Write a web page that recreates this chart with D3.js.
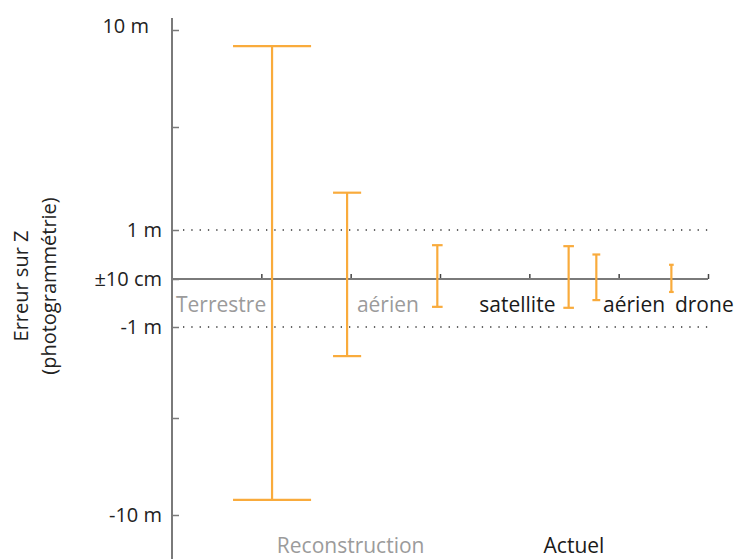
<!DOCTYPE html>
<html>
<head>
<meta charset="utf-8">
<script src="https://cdn.jsdelivr.net/npm/d3@7"></script>
<style>
  html, body { margin: 0; padding: 0; background: #fff; }
  svg { display: block; font-family: "Open Sans", "Noto Sans", sans-serif; }
</style>
</head>
<body>
<svg id="chart" width="736" height="559"></svg>
<script>
// ---- data ----
const barNames   = ["Terrestre (reconstruction)", "Aérien (reconstruction)", "Aérien (reconstruction) 2", "Satellite", "Aérien actuel", "Drone"];
const barPos     = [1.12, 1.96, 2.97, 4.44, 4.75, 5.59];      // position along the category axis
const barLow     = [-9.3, -2.44, -0.58, -0.60, -0.44, -0.27];  // m
const barHigh    = [9.25, 2.63, 0.69, 0.67, 0.50, 0.29];       // m

const yTickValues = [10, 5.5, 1, 0, -1, -5.5, -10];
const yTickLabels = ["10 m", "", "1 m", "±10 cm", "-1 m", "", "-10 m"];
const refLines    = [1, -1];

const catLabels   = ["Terrestre", "aérien", "satellite", "aérien", "drone"];
const catStart    = [0.045, 2.07, 3.44, 4.825, 5.63];
const catGrey     = [true, true, false, false, false];

const groupLabels = ["Reconstruction", "Actuel"];
const groupCenter = [2, 4.5];
const groupGrey   = [true, false];

const xTicks = [1, 2, 3, 4, 5, 6];

// ---- scales ----
const svg = d3.select("#chart");
const x = d3.scaleLinear().domain([0, 6]).range([172, 708]);
const y = d3.scaleLinear()
  .domain([-10, -5.5, -1, 0, 1, 5.5, 10])
  .range([515, 418, 327, 279, 230, 127, 30]);

const orange = "#F9AB3C";
const axisGrey = "#7a7a7a";

// dotted reference lines
svg.append("g").selectAll("line").data(refLines).join("line")
  .attr("x1", x(0) + 11).attr("x2", x(6))
  .attr("y1", d => y(d)).attr("y2", d => y(d))
  .attr("stroke", "#333").attr("stroke-width", 1.5)
  .attr("stroke-dasharray", "1.3 7");

// y axis
const yAxis = d3.axisRight(y).tickValues(yTickValues).tickSize(7).tickFormat("");
const gy = svg.append("g").attr("transform", `translate(${x(0)},0)`).call(yAxis);
gy.select(".domain").remove();
gy.selectAll(".tick line").attr("stroke", axisGrey).attr("stroke-width", 1.5);
svg.append("line").attr("x1", x(0)).attr("x2", x(0)).attr("y1", 18).attr("y2", 559)
  .attr("stroke", axisGrey).attr("stroke-width", 2);

// y tick labels (the top label sits a little higher and further left in the original)
svg.append("g").selectAll("text").data(yTickValues).join("text")
  .attr("x", (d, i) => i === 0 ? 149 : 162)
  .attr("y", (d, i) => y(d) - (i === 0 ? 4 : 0)).attr("dy", "0.35em")
  .attr("text-anchor", "end").attr("font-size", 20).attr("fill", "#222")
  .text((d, i) => yTickLabels[i]);

// x axis (zero line)
const xAxis = d3.axisTop(x).tickValues(xTicks).tickSize(5).tickFormat("");
const gx = svg.append("g").attr("transform", `translate(0,${y(0)})`).call(xAxis);
gx.select(".domain").remove();
gx.selectAll(".tick line").attr("stroke", "#444").attr("stroke-width", 1.5);
svg.append("line").attr("x1", x(0)).attr("x2", x(6)).attr("y1", y(0)).attr("y2", y(0))
  .attr("stroke", axisGrey).attr("stroke-width", 2);

// error bars
const bars = svg.append("g").selectAll("g").data(barNames).join("g")
  .attr("stroke", orange).attr("stroke-width", 2.2).attr("fill", "none");
const capW = i => 0.172 * (y(barLow[i]) - y(barHigh[i]));
bars.append("line")
  .attr("x1", (d, i) => x(barPos[i])).attr("x2", (d, i) => x(barPos[i]))
  .attr("y1", (d, i) => y(barHigh[i])).attr("y2", (d, i) => y(barLow[i]));
bars.append("line")
  .attr("x1", (d, i) => x(barPos[i]) - capW(i) / 2).attr("x2", (d, i) => x(barPos[i]) + capW(i) / 2)
  .attr("y1", (d, i) => y(barHigh[i])).attr("y2", (d, i) => y(barHigh[i]));
bars.append("line")
  .attr("x1", (d, i) => x(barPos[i]) - capW(i) / 2).attr("x2", (d, i) => x(barPos[i]) + capW(i) / 2)
  .attr("y1", (d, i) => y(barLow[i])).attr("y2", (d, i) => y(barLow[i]));

// category labels
svg.append("g").selectAll("text").data(catLabels).join("text")
  .attr("x", (d, i) => x(catStart[i])).attr("y", y(0) + 33)
  .attr("font-size", 21)
  .attr("fill", (d, i) => catGrey[i] ? "#9b9b9b" : "#1a1a1a")
  .text(d => d);

// group labels
svg.append("g").selectAll("text").data(groupLabels).join("text")
  .attr("x", (d, i) => x(groupCenter[i])).attr("y", 553)
  .attr("text-anchor", "middle").attr("font-size", 21)
  .attr("fill", (d, i) => groupGrey[i] ? "#9b9b9b" : "#1a1a1a")
  .text(d => d);

// y title
const title = svg.append("text").attr("transform", "translate(0,286) rotate(-90)")
  .attr("text-anchor", "middle").attr("font-size", 20).attr("fill", "#222");
title.append("tspan").attr("x", 0).attr("y", 28).text("Erreur sur Z");
title.append("tspan").attr("x", 0).attr("y", 56).text("(photogrammétrie)");
</script>
</body>
</html>
